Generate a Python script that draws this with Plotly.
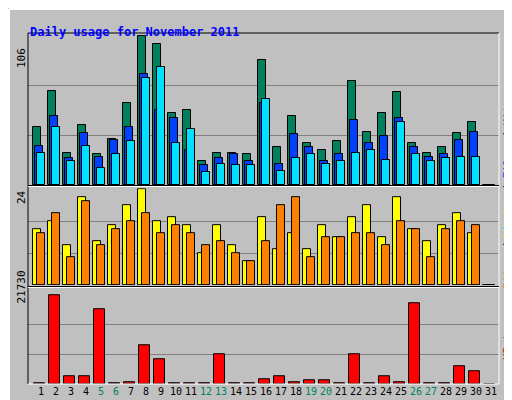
import plotly.graph_objects as go

days = list(range(1, 32))
hits = [41, 67, 23, 43, 22, 33, 58, 106, 100, 51, 53, 17, 23, 23, 22, 89, 27, 49, 30, 25, 31, 74, 38, 51, 66, 30, 23, 27, 37, 45, 0]
files = [28, 49, 19, 37, 20, 32, 41, 79, 53, 48, 25, 14, 19, 22, 17, 58, 15, 36, 27, 17, 22, 46, 30, 35, 48, 27, 20, 22, 32, 38, 0]
pages = [23, 41, 17, 28, 12, 22, 31, 76, 84, 30, 40, 9, 15, 14, 14, 61, 10, 19, 22, 15, 17, 23, 25, 18, 45, 22, 17, 19, 20, 20, 0]
sites = [14, 16, 10, 22, 11, 15, 20, 24, 16, 17, 15, 8, 15, 10, 6, 17, 9, 13, 9, 15, 12, 17, 20, 12, 22, 14, 11, 15, 18, 13, 0]
visits = [13, 18, 7, 21, 10, 14, 16, 18, 13, 15, 13, 10, 11, 8, 6, 11, 20, 22, 7, 12, 12, 13, 13, 10, 16, 14, 7, 14, 16, 15, 0]
kbytes = [250, 21730, 1980, 1980, 18330, 250, 550, 9560, 6000, 250, 250, 250, 7190, 250, 250, 1260, 1980, 550,
          1030, 1030, 250, 7190, 250, 1980, 550, 19750, 250, 250, 4350, 3160, 0]
weekends = [5, 6, 12, 13, 19, 20, 26, 27]

L, R, T, B = 20, 491, 25, 376
def px(x): return (x - L) / (R - L)
def py(y): return (B - y) / (B - T)

fig = go.Figure()
def bars(vals, color, off, w, ax):
    fig.add_trace(go.Bar(x=days, y=vals, offset=off, width=w, marker=dict(color=color, line=dict(color='black', width=1)),
                         xaxis='x', yaxis=ax, showlegend=False))

bars(hits, '#00805c', -0.51, 0.49, 'y3')
bars(files, '#0040ff', -0.38, 0.49, 'y3')
bars(pages, '#00e0ff', -0.25, 0.49, 'y3')
bars(sites, '#ffff00', -0.51, 0.49, 'y2')
bars(visits, '#ff8000', -0.25, 0.49, 'y2')
bars(kbytes, '#ff0000', -0.45, 0.69, 'y')

ticktext = [f"<span style='color:#00805c'>{d}</span>" if d in weekends else str(d) for d in days]
ygrid = dict(showgrid=True, gridcolor='#808080', gridwidth=1, showticklabels=False, zeroline=False, ticks='',
             automargin=False)
fig.update_layout(
    width=512, height=400, margin=dict(l=L, r=512 - R, t=T, b=400 - B, autoexpand=False),
    paper_bgcolor='#c0c0c0', plot_bgcolor='#c0c0c0', barmode='overlay', bargap=0,
    font=dict(family='DejaVu Sans Mono', size=11, color='black'),
    xaxis=dict(range=[0.133, 31.53], tickvals=days, ticktext=ticktext, showgrid=False, ticks='', zeroline=False,
               tickangle=0, tickfont=dict(size=10), automargin=False),
    yaxis=dict(domain=[0, 0.27], range=[0, 21730 * 1.065], tickvals=[7243, 14487], **ygrid),
    yaxis2=dict(domain=[0.282, 0.558], range=[0, 24 * 1.015], tickvals=[8, 16], **ygrid),
    yaxis3=dict(domain=[0.567, 1], range=[0, 106 * 1.02], tickvals=[35.3, 70.7], **ygrid),
)

ann = [
    ("<b>Daily usage for November 2011</b>", 20, 15, 0, 'left', '#0000ff', 12),
    ("106", 13, 38, -90, 'center', 'black', 11),
    ("24", 13, 189, -90, 'center', 'black', 11),
    ("21730", 13, 298, -90, 'center', 'black', 11),
    ("<span style='color:#00e0ff'>Pages</span> / <span style='color:#0040ff'>Files</span> / <span style='color:#00805c'>Hits</span>",
     499, 89, -90, 'center', 'black', 11),
    ("<span style='color:#ff8000'>Sites</span> / <span style='color:#ffff00'>Visits</span>", 499, 235, -90, 'center', 'black', 11),
    ("<span style='color:#ff0000'>KBytes</span>", 499, 354, -90, 'center', 'black', 11),
]
for text, x, y, ang, xa, col, sz in ann:
    fig.add_annotation(text=text, x=px(x), y=py(y), xref='paper', yref='paper', showarrow=False,
                       textangle=ang, xanchor=xa, font=dict(color=col, size=sz))

shapes = [
    (1, 1, 510, 1, 'white', 2), (1, 1, 1, 398, 'white', 2),
    (1, 398, 510, 398, 'black', 2), (510, 1, 510, 398, 'black', 2),
    (5, 395, 507, 395, '#808080', 2), (507, 5, 507, 395, '#808080', 2),
    (L, T, R, T, 'black', 1), (L, T, L, B, 'black', 1),
    (R, T, R, B, 'white', 1), (L, B, R, B, 'white', 1),
    (L, 178.5, R, 178.5, 'white', 1), (L, 279.5, R, 279.5, 'white', 1),
    (L, 177.5, R, 177.5, 'black', 1), (L, 278.5, R, 278.5, 'black', 1),
]
for x0, y0, x1, y1, c, w in shapes:
    fig.add_shape(type='line', xref='paper', yref='paper', x0=px(x0), y0=py(y0), x1=px(x1), y1=py(y1),
                  line=dict(color=c, width=w))

fig.write_html("out.html")
